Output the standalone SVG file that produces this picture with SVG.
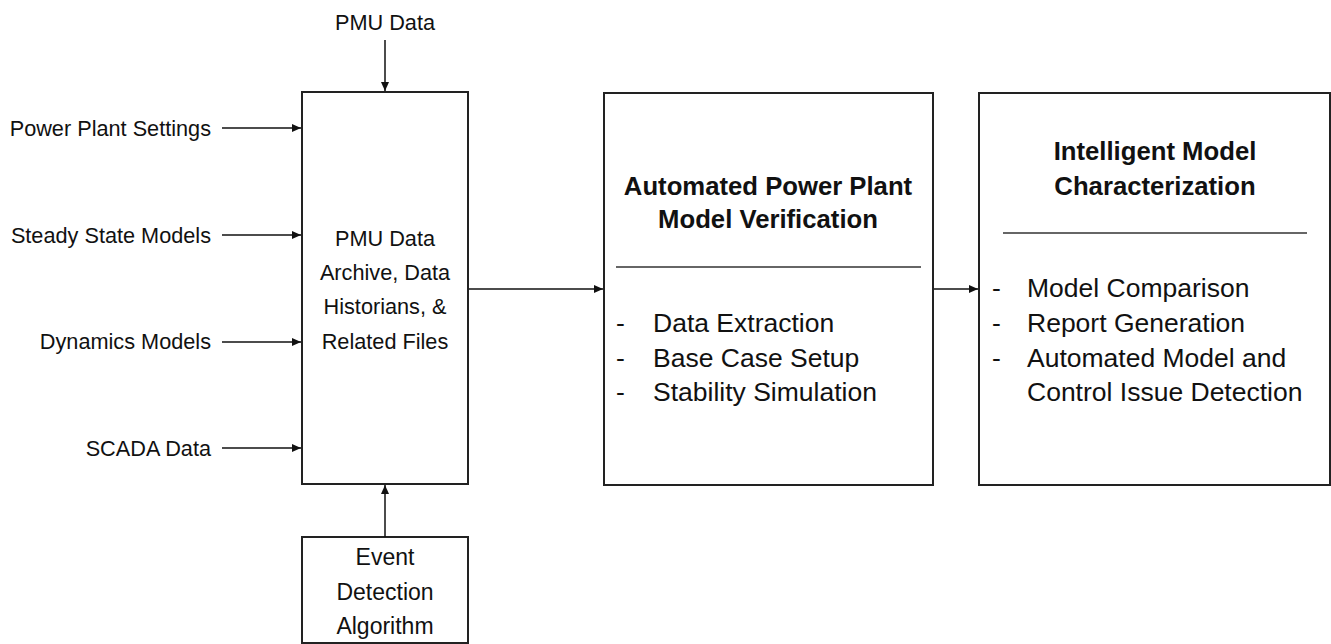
<svg xmlns="http://www.w3.org/2000/svg" width="1331" height="644" viewBox="0 0 1331 644">
<style>
text{font-family:"Liberation Sans",Arial,sans-serif;font-size:21.7px;fill:#111}
.b{font-weight:bold;font-size:25.7px}
.l{font-size:26.5px}
.e{font-size:23px}
.m{text-anchor:middle}
.r{text-anchor:end}
.box{fill:#fff;stroke:#222;stroke-width:2}
.c{stroke:#111;stroke-width:1.5;fill:none}
.sep{stroke:#333;stroke-width:1.5}
</style>
<defs>
<marker id="ah" markerWidth="10" markerHeight="8" refX="9" refY="4" orient="auto" markerUnits="userSpaceOnUse">
<path d="M0,0 L9,4 L0,8 Z" fill="#111"/>
</marker>
</defs>
<rect width="1331" height="644" fill="#fff"/>
<g id="inputs">
<text class="m" x="385" y="30">PMU Data</text>
<text class="r" x="211" y="136">Power Plant Settings</text>
<text class="r" x="211" y="243">Steady State Models</text>
<text class="r" x="211" y="349">Dynamics Models</text>
<text class="r" x="211" y="456">SCADA Data</text>
</g>
<g id="archive">
<rect class="box" x="302" y="92" width="166" height="392"/>
<text class="m" x="385" y="246">PMU Data</text>
<text class="m" x="385" y="280">Archive, Data</text>
<text class="m" x="385" y="314">Historians, &amp;</text>
<text class="m" x="385" y="349">Related Files</text>
</g>
<g id="event">
<rect class="box" x="302" y="537" width="166" height="106"/>
<text class="m e" x="385" y="565">Event</text>
<text class="m e" x="385" y="600">Detection</text>
<text class="m e" x="385" y="634">Algorithm</text>
</g>
<g id="verification">
<rect class="box" x="604" y="93" width="329" height="392"/>
<text class="m b" x="768" y="195">Automated Power Plant</text>
<text class="m b" x="768" y="228">Model Verification</text>
<line class="sep" x1="616" y1="267" x2="921" y2="267"/>
<text class="l" x="616" y="332">-</text><text class="l" x="653" y="332">Data Extraction</text>
<text class="l" x="616" y="367">-</text><text class="l" x="653" y="367">Base Case Setup</text>
<text class="l" x="616" y="401">-</text><text class="l" x="653" y="401">Stability Simulation</text>
</g>
<g id="characterization">
<rect class="box" x="979" y="93" width="351" height="392"/>
<text class="m b" x="1155" y="160">Intelligent Model</text>
<text class="m b" x="1155" y="195">Characterization</text>
<line class="sep" x1="1003" y1="233" x2="1307" y2="233"/>
<text class="l" x="992" y="297">-</text><text class="l" x="1027" y="297">Model Comparison</text>
<text class="l" x="992" y="332">-</text><text class="l" x="1027" y="332">Report Generation</text>
<text class="l" x="992" y="367">-</text><text class="l" x="1027" y="367">Automated Model and</text>
<text class="l" x="1027" y="401">Control Issue Detection</text>
</g>
<g id="connectors">
<line class="c" x1="385" y1="40" x2="385" y2="91" marker-end="url(#ah)"/>
<line class="c" x1="222" y1="128" x2="301" y2="128" marker-end="url(#ah)"/>
<line class="c" x1="222" y1="235" x2="301" y2="235" marker-end="url(#ah)"/>
<line class="c" x1="222" y1="342" x2="301" y2="342" marker-end="url(#ah)"/>
<line class="c" x1="222" y1="448" x2="301" y2="448" marker-end="url(#ah)"/>
<line class="c" x1="385" y1="537" x2="385" y2="485" marker-end="url(#ah)"/>
<line class="c" x1="469" y1="289" x2="603" y2="289" marker-end="url(#ah)"/>
<line class="c" x1="934" y1="289" x2="978" y2="289" marker-end="url(#ah)"/>
</g>
</svg>
